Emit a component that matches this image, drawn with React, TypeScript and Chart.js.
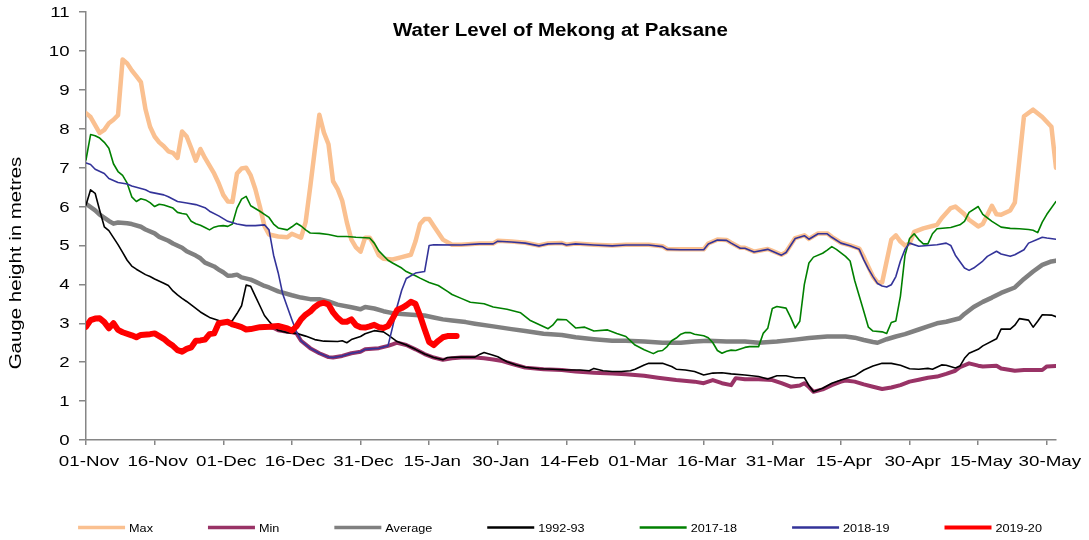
import React, { useEffect, useRef } from "react";
import { Chart, registerables } from "chart.js";

Chart.register(...registerables);

// ---- Axis categories ----
const tickDays = [0, 15, 30, 45, 60, 75, 90, 105, 120, 135, 150, 165, 180, 195, 210];
const tickLabels = ["01-Nov", "16-Nov", "01-Dec", "16-Dec", "31-Dec", "15-Jan", "30-Jan", "14-Feb", "01-Mar", "16-Mar", "31-Mar", "15-Apr", "30-Apr", "15-May", "30-May"];
const yTickValues = [0, 1, 2, 3, 4, 5, 6, 7, 8, 9, 10, 11];

// ---- Series: day offsets from 01-Nov and water level (m) ----
const maxDays = [
  0, 1, 3, 4, 5, 6, 7, 8, 9, 10,
  11, 12, 13, 14, 15, 16, 17, 18, 19, 20,
  21, 22, 23, 24, 25, 26, 27, 28, 29, 30,
  31, 32, 33, 34, 35, 36, 37, 38, 39, 40,
  42, 44, 45, 46, 47, 48, 49, 50, 51, 52,
  53, 54, 55, 56, 57, 58, 59, 60, 61, 62,
  63, 64, 65, 67, 69, 71, 72, 73, 74, 75,
  76, 78, 80, 82, 86, 89, 90, 93, 96, 99,
  101, 104, 105, 107, 111, 115, 118, 123, 126, 127,
  130, 135, 136, 138, 140, 141, 143, 144, 146, 149,
  150, 152, 153, 155, 157, 158, 160, 162, 163, 165,
  167, 169, 170, 171, 172, 173, 174, 175, 176, 177,
  178, 179, 180, 181, 183, 185, 186, 187, 189, 190,
  192, 193, 195, 196, 198, 199, 200, 202, 203, 204,
  205, 207, 209, 211, 212,
];
const maxValues = [
  8.40, 8.30, 7.89, 7.97, 8.14, 8.23, 8.35, 9.78, 9.68, 9.50,
  9.35, 9.20, 8.50, 8.05, 7.80, 7.65, 7.55, 7.42, 7.38, 7.25,
  7.93, 7.80, 7.50, 7.18, 7.48, 7.25, 7.05, 6.85, 6.60, 6.30,
  6.13, 6.12, 6.85, 6.98, 7.00, 6.80, 6.45, 6.00, 5.50, 5.28,
  5.23, 5.21, 5.30, 5.25, 5.20, 5.60, 6.50, 7.45, 8.36, 7.90,
  7.60, 6.65, 6.45, 6.15, 5.60, 5.15, 4.95, 4.84, 5.20, 5.20,
  5.00, 4.75, 4.66, 4.64, 4.70, 4.76, 5.10, 5.55, 5.68, 5.68,
  5.50, 5.15, 5.02, 5.02, 5.05, 5.05, 5.12, 5.10, 5.07, 5.00,
  5.05, 5.06, 5.02, 5.05, 5.02, 5.00, 5.02, 5.02, 4.98, 4.91,
  4.90, 4.90, 5.05, 5.15, 5.14, 5.07, 4.94, 4.94, 4.84, 4.91,
  4.86, 4.76, 4.83, 5.19, 5.26, 5.17, 5.31, 5.31, 5.22, 5.07,
  5.00, 4.92, 4.70, 4.45, 4.20, 4.05, 4.05, 4.60, 5.15, 5.26,
  5.10, 5.00, 5.05, 5.35, 5.44, 5.50, 5.53, 5.70, 5.96, 6.00,
  5.80, 5.66, 5.49, 5.55, 6.02, 5.80, 5.79, 5.90, 6.10, 7.20,
  8.32, 8.49, 8.30, 8.05, 7.00,
];

const minDays = [
  0, 1, 2, 3, 4, 5, 6, 7, 8, 10,
  11, 12, 14, 15, 16, 17, 18, 19, 20, 21,
  22, 23, 24, 25, 26, 27, 28, 29, 30, 31,
  32, 33, 34, 35, 36, 38, 40, 41, 42, 44,
  45, 46, 47, 49, 51, 53, 54, 56, 58, 60,
  61, 64, 66, 67, 68, 70, 72, 74, 76, 78,
  80, 82, 85, 87, 89, 91, 93, 96, 100, 104,
  107, 111, 115, 118, 122, 125, 129, 133, 135, 137,
  139, 141, 142, 144, 147, 150, 152, 154, 156, 157,
  158, 159, 161, 163, 165, 166, 168, 170, 172, 174,
  176, 178, 180, 182, 184, 186, 188, 190, 191, 193,
  195, 196, 199, 200, 203, 205, 209, 210, 212,
];
const minValues = [
  2.91, 3.08, 3.12, 3.13, 3.03, 2.87, 3.00, 2.83, 2.77, 2.69,
  2.64, 2.70, 2.72, 2.74, 2.67, 2.60, 2.50, 2.42, 2.31, 2.27,
  2.34, 2.38, 2.55, 2.56, 2.58, 2.72, 2.74, 3.00, 3.02, 3.00,
  2.97, 2.94, 2.90, 2.84, 2.85, 2.90, 2.90, 2.88, 2.82, 2.78,
  2.77, 2.74, 2.55, 2.36, 2.23, 2.13, 2.12, 2.16, 2.23, 2.27,
  2.33, 2.36, 2.42, 2.46, 2.50, 2.44, 2.33, 2.21, 2.12, 2.06,
  2.10, 2.12, 2.12, 2.10, 2.07, 2.03, 1.96, 1.86, 1.82, 1.80,
  1.76, 1.73, 1.71, 1.69, 1.65, 1.60, 1.54, 1.50, 1.46, 1.54,
  1.46, 1.41, 1.59, 1.56, 1.56, 1.54, 1.46, 1.37, 1.40, 1.46,
  1.36, 1.24, 1.30, 1.41, 1.50, 1.53, 1.50, 1.43, 1.37, 1.31,
  1.35, 1.41, 1.50, 1.55, 1.60, 1.63, 1.70, 1.78, 1.87, 1.97,
  1.91, 1.89, 1.91, 1.84, 1.78, 1.80, 1.80, 1.89, 1.90,
];

const avgDays = [
  0, 2, 3, 5, 6, 7, 9, 10, 12, 13,
  15, 16, 18, 19, 21, 22, 24, 25, 26, 28,
  29, 30, 31, 32, 33, 34, 36, 37, 39, 40,
  42, 45, 47, 49, 51, 53, 55, 58, 60, 61,
  63, 65, 67, 69, 72, 74, 76, 78, 80, 83,
  85, 89, 93, 96, 100, 104, 107, 111, 115, 118,
  122, 126, 130, 133, 136, 140, 144, 147, 151, 155,
  158, 162, 166, 168, 170, 172, 173, 175, 177, 179,
  182, 184, 186, 188, 191, 192, 194, 196, 198, 200,
  203, 205, 207, 209, 211, 212,
];
const avgValues = [
  6.07, 5.90, 5.79, 5.63, 5.56, 5.59, 5.57, 5.55, 5.48, 5.41,
  5.31, 5.22, 5.12, 5.05, 4.94, 4.85, 4.74, 4.67, 4.56, 4.46,
  4.38, 4.31, 4.22, 4.23, 4.25, 4.18, 4.12, 4.07, 3.96, 3.92,
  3.82, 3.72, 3.66, 3.62, 3.62, 3.56, 3.48, 3.41, 3.36, 3.42,
  3.38, 3.31, 3.26, 3.24, 3.21, 3.20, 3.15, 3.10, 3.07, 3.03,
  2.99, 2.92, 2.85, 2.80, 2.73, 2.70, 2.64, 2.59, 2.55, 2.55,
  2.53, 2.50, 2.50, 2.53, 2.55, 2.53, 2.53, 2.50, 2.53, 2.58,
  2.62, 2.66, 2.66, 2.63, 2.57, 2.52, 2.50, 2.59, 2.66, 2.72,
  2.84, 2.92, 3.00, 3.04, 3.13, 3.24, 3.42, 3.55, 3.66, 3.78,
  3.92, 4.14, 4.33, 4.50, 4.59, 4.61,
];

const y1992Days = [
  0, 1, 2, 3, 4, 5, 6, 7, 8, 9,
  10, 11, 13, 14, 15, 17, 18, 19, 20, 21,
  22, 23, 24, 25, 26, 27, 28, 30, 31, 32,
  33, 34, 35, 36, 37, 38, 39, 40, 41, 42,
  44, 46, 48, 50, 52, 55, 56, 57, 58, 60,
  61, 63, 65, 66, 68, 70, 72, 74, 76, 78,
  79, 82, 85, 86, 87, 89, 90, 92, 94, 96,
  99, 102, 105, 108, 110, 111, 113, 115, 117, 119,
  120, 122, 123, 126, 128, 129, 131, 133, 135, 137,
  139, 141, 144, 147, 149, 151, 153, 155, 157, 158,
  159, 161, 163, 165, 168, 170, 172, 174, 176, 178,
  180, 182, 184, 185, 187, 188, 190, 191, 192, 193,
  195, 196, 199, 200, 202, 203, 204, 206, 207, 208,
  209, 211, 212,
];
const y1992Values = [
  6.04, 6.43, 6.34, 5.90, 5.48, 5.38, 5.20, 5.02, 4.82, 4.62,
  4.47, 4.39, 4.25, 4.20, 4.14, 4.03, 3.97, 3.83, 3.73, 3.64,
  3.56, 3.47, 3.38, 3.29, 3.22, 3.15, 3.11, 3.03, 3.00, 3.07,
  3.25, 3.45, 3.98, 3.95, 3.70, 3.45, 3.20, 3.05, 2.92, 2.82,
  2.76, 2.74, 2.67, 2.58, 2.54, 2.53, 2.55, 2.50, 2.58, 2.66,
  2.73, 2.81, 2.78, 2.70, 2.53, 2.44, 2.33, 2.21, 2.12, 2.06,
  2.12, 2.13, 2.13, 2.20, 2.25, 2.18, 2.14, 2.01, 1.93, 1.87,
  1.83, 1.82, 1.80, 1.80, 1.78, 1.84, 1.78, 1.76, 1.76, 1.78,
  1.82, 1.93, 1.97, 1.97, 1.89, 1.82, 1.80, 1.76, 1.67, 1.72,
  1.73, 1.70, 1.67, 1.63, 1.57, 1.65, 1.65, 1.60, 1.60, 1.40,
  1.24, 1.33, 1.46, 1.54, 1.65, 1.80, 1.90, 1.97, 1.97, 1.92,
  1.83, 1.82, 1.84, 1.82, 1.93, 1.92, 1.85, 1.90, 2.10, 2.23,
  2.33, 2.42, 2.60, 2.85, 2.85, 2.95, 3.12, 3.08, 2.90, 3.05,
  3.22, 3.21, 3.17,
];

const y2017Days = [
  0, 1, 2, 3, 4, 5, 6, 7, 8, 9,
  10, 11, 12, 13, 14, 15, 16, 17, 18, 19,
  20, 21, 22, 23, 24, 25, 26, 27, 28, 29,
  30, 31, 32, 33, 34, 35, 36, 37, 38, 39,
  40, 41, 42, 44, 45, 46, 47, 48, 49, 51,
  53, 55, 57, 59, 62, 63, 64, 66, 67, 69,
  70, 72, 73, 75, 76, 77, 79, 80, 82, 84,
  87, 89, 92, 95, 97, 99, 101, 102, 103, 105,
  107, 109, 111, 114, 116, 118, 120, 122, 124, 125,
  126, 127, 128, 129, 130, 131, 132, 133, 135, 136,
  137, 138, 139, 140, 141, 142, 144, 145, 147, 148,
  149, 150, 151, 153, 154, 155, 156, 157, 158, 159,
  161, 162, 163, 164, 166, 167, 168, 169, 170, 171,
  172, 174, 175, 176, 177, 178, 179, 180, 181, 182,
  183, 184, 185, 186, 189, 191, 192, 193, 195, 196,
  198, 200, 202, 204, 206, 207, 208, 209, 210, 212,
];
const y2017Values = [
  7.20, 7.85, 7.82, 7.76, 7.65, 7.50, 7.10, 6.90, 6.80, 6.60,
  6.25, 6.13, 6.20, 6.17, 6.10, 6.00, 6.06, 6.04, 6.00, 5.96,
  5.85, 5.82, 5.80, 5.62, 5.56, 5.52, 5.46, 5.40, 5.47, 5.50,
  5.51, 5.49, 5.55, 5.96, 6.19, 6.26, 6.02, 5.95, 5.88, 5.80,
  5.72, 5.55, 5.45, 5.40, 5.48, 5.57, 5.50, 5.40, 5.32, 5.31,
  5.28, 5.23, 5.23, 5.21, 5.19, 5.06, 4.86, 4.62, 4.55, 4.42,
  4.33, 4.22, 4.16, 4.05, 4.01, 3.97, 3.82, 3.74, 3.64, 3.54,
  3.50, 3.42, 3.36, 3.27, 3.08, 2.97, 2.86, 2.95, 3.10, 3.09,
  2.88, 2.90, 2.80, 2.83, 2.74, 2.66, 2.44, 2.32, 2.22, 2.28,
  2.30, 2.40, 2.55, 2.62, 2.72, 2.76, 2.76, 2.72, 2.68, 2.63,
  2.50, 2.30, 2.23, 2.28, 2.31, 2.30, 2.38, 2.40, 2.40, 2.74,
  2.87, 3.38, 3.43, 3.39, 3.15, 2.88, 3.05, 4.00, 4.55, 4.70,
  4.80, 4.88, 4.97, 4.90, 4.72, 4.60, 4.10, 3.70, 3.30, 2.90,
  2.80, 2.78, 2.74, 3.02, 3.06, 3.70, 4.75, 5.18, 5.30, 5.15,
  5.04, 5.04, 5.30, 5.43, 5.46, 5.53, 5.62, 5.85, 6.00, 5.80,
  5.62, 5.47, 5.44, 5.43, 5.41, 5.39, 5.33, 5.60, 5.80, 6.13,
];

const y2018Days = [
  0, 1, 2, 4, 5, 7, 9, 10, 13, 14,
  17, 18, 20, 22, 24, 26, 27, 29, 31, 33,
  35, 37, 39, 40, 41, 42, 43, 44, 45, 46,
  47, 49, 51, 53, 54, 56, 58, 60, 61, 64,
  66, 67, 68, 69, 70, 72, 74, 75, 76, 82,
  86, 89, 90, 93, 96, 99, 101, 104, 105, 107,
  111, 115, 118, 123, 126, 127, 130, 135, 136, 138,
  140, 141, 143, 144, 146, 149, 150, 152, 153, 155,
  157, 158, 160, 162, 163, 165, 167, 169, 170, 171,
  172, 173, 174, 175, 176, 177, 178, 179, 180, 182,
  184, 186, 188, 189, 190, 192, 193, 194, 196, 197,
  199, 200, 202, 203, 205, 206, 208, 209, 210, 212,
];
const y2018Values = [
  7.12, 7.08, 6.96, 6.85, 6.72, 6.62, 6.58, 6.53, 6.43, 6.37,
  6.30, 6.25, 6.13, 6.09, 6.05, 5.97, 5.88, 5.76, 5.62, 5.55,
  5.51, 5.51, 5.53, 5.40, 4.75, 4.30, 3.75, 3.42, 3.09, 2.78,
  2.55, 2.36, 2.23, 2.13, 2.12, 2.16, 2.23, 2.27, 2.33, 2.36,
  2.42, 2.90, 3.43, 3.85, 4.15, 4.29, 4.33, 5.00, 5.02, 5.01,
  5.04, 5.04, 5.11, 5.09, 5.06, 4.99, 5.04, 5.05, 5.01, 5.04,
  5.01, 4.99, 5.01, 5.01, 4.97, 4.90, 4.89, 4.89, 5.04, 5.14,
  5.13, 5.06, 4.93, 4.93, 4.83, 4.90, 4.85, 4.75, 4.82, 5.18,
  5.25, 5.16, 5.30, 5.30, 5.21, 5.06, 4.99, 4.90, 4.63, 4.40,
  4.20, 4.02, 3.96, 3.93, 3.99, 4.20, 4.60, 4.90, 5.06, 4.98,
  5.00, 5.02, 5.06, 5.00, 4.75, 4.42, 4.36, 4.42, 4.60, 4.72,
  4.85, 4.78, 4.72, 4.76, 4.89, 5.06, 5.16, 5.21, 5.19, 5.16,
];

const y2019Days = [
  0, 1, 2, 3, 4, 5, 6, 7, 8, 10,
  11, 12, 14, 15, 16, 17, 18, 19, 20, 21,
  22, 23, 24, 25, 26, 27, 28, 29, 30, 31,
  32, 33, 34, 35, 36, 38, 40, 42, 44, 45,
  46, 47, 48, 49, 50, 51, 52, 53, 54, 55,
  56, 57, 58, 59, 60, 61, 62, 63, 64, 65,
  66, 67, 68, 69, 70, 71, 72, 73, 74, 75,
  76, 77, 78, 79, 81,
];
const y2019Values = [
  2.91, 3.08, 3.12, 3.13, 3.03, 2.87, 3.00, 2.83, 2.77, 2.69,
  2.64, 2.70, 2.72, 2.74, 2.67, 2.60, 2.50, 2.42, 2.31, 2.27,
  2.34, 2.38, 2.55, 2.56, 2.58, 2.72, 2.74, 3.00, 3.02, 3.04,
  2.97, 2.94, 2.90, 2.84, 2.85, 2.90, 2.91, 2.93, 2.87, 2.81,
  2.92, 3.10, 3.22, 3.30, 3.42, 3.50, 3.53, 3.48, 3.28, 3.14,
  3.04, 3.04, 3.10, 2.95, 2.90, 2.89, 2.92, 2.96, 2.90, 2.88,
  2.93, 3.12, 3.34, 3.39, 3.46, 3.55, 3.50, 3.20, 2.85, 2.52,
  2.44, 2.55, 2.64, 2.67, 2.67,
];

const CHART_TITLE = "Water Level of Mekong at Paksane";
const Y_TITLE = "Gauge height in metres";
const AXIS_COLOR = "#868686";
const FONT = '"Liberation Sans", Arial, sans-serif';

const seriesDefs = [
  { label: "Max", days: maxDays, values: maxValues, color: "#FAC090", width: 4.5, legendWidth: 3.5 },
  { label: "Min", days: minDays, values: minValues, color: "#993366", width: 4, legendWidth: 3.5 },
  { label: "Average", days: avgDays, values: avgValues, color: "#808080", width: 4.5, legendWidth: 3.5 },
  { label: "1992-93", days: y1992Days, values: y1992Values, color: "#000000", width: 1.6, legendWidth: 2.5 },
  { label: "2017-18", days: y2017Days, values: y2017Values, color: "#008000", width: 1.6, legendWidth: 2.5 },
  { label: "2018-19", days: y2018Days, values: y2018Values, color: "#333399", width: 1.6, legendWidth: 2.5 },
  { label: "2019-20", days: y2019Days, values: y2019Values, color: "#FF0000", width: 6, legendWidth: 4 },
];

function drawStretched(
  ctx: CanvasRenderingContext2D,
  text: string,
  x: number,
  y: number,
  font: string,
  sx: number,
  align: CanvasTextAlign,
  rot = 0
) {
  ctx.save();
  ctx.translate(x, y);
  if (rot) ctx.rotate(rot);
  ctx.scale(sx, 1);
  ctx.font = font;
  ctx.textAlign = align;
  ctx.textBaseline = "alphabetic";
  ctx.fillStyle = "#000";
  ctx.fillText(text, 0, 0);
  ctx.restore();
}

const textPlugin = {
  id: "customText",
  afterDraw(chart: any) {
    const ctx: CanvasRenderingContext2D = chart.ctx;
    const xs = chart.scales.x;
    const ys = chart.scales.y;
    ctx.save();
    // Title
    drawStretched(ctx, CHART_TITLE, 560.5, 36, `bold 17.5px ${FONT}`, 1.17, "center");
    // Y axis title
    drawStretched(ctx, Y_TITLE, 21, 263, `16.5px ${FONT}`, 1.24, "center", -Math.PI / 2);
    // Y tick labels
    yTickValues.forEach((v) => {
      drawStretched(ctx, String(v), 69.5, ys.getPixelForValue(v) + 5, `14px ${FONT}`, 1.33, "right");
    });
    // X tick labels
    tickDays.forEach((d, i) => {
      drawStretched(ctx, tickLabels[i], xs.getPixelForValue(d) + 3, 466, `15px ${FONT}`, 1.25, "center");
    });
    // Legend
    const lFont = `11px ${FONT}`;
    const lsx = 1.15;
    ctx.font = lFont;
    const widths = seriesDefs.map((s) => ctx.measureText(s.label).width * lsx);
    const sampleLen = 47;
    const sampleGap = 4;
    const itemGap = 55;
    const total =
      widths.reduce((a, w) => a + sampleLen + sampleGap + w, 0) + itemGap * (seriesDefs.length - 1);
    let x = 560 - total / 2;
    const ly = 527.5;
    seriesDefs.forEach((s, i) => {
      ctx.save();
      ctx.strokeStyle = s.color;
      ctx.lineWidth = s.legendWidth;
      ctx.lineCap = "butt";
      ctx.beginPath();
      ctx.moveTo(x, ly);
      ctx.lineTo(x + sampleLen, ly);
      ctx.stroke();
      ctx.restore();
      drawStretched(ctx, s.label, x + sampleLen + sampleGap, ly + 4, lFont, lsx, "left");
      x += sampleLen + sampleGap + widths[i] + itemGap;
    });
    ctx.restore();
  },
};

export default function App() {
  const canvasRef = useRef<HTMLCanvasElement | null>(null);

  useEffect(() => {
    const canvas = canvasRef.current;
    if (!canvas) return;
    const datasets = seriesDefs.map((s, i) => ({
      label: s.label,
      data: s.days.map((d, j) => ({ x: d, y: s.values[j] })),
      borderColor: s.color,
      backgroundColor: s.color,
      borderWidth: s.width,
      pointRadius: 0,
      pointHoverRadius: 0,
      fill: false,
      tension: 0,
      borderJoinStyle: "round" as const,
      borderCapStyle: "round" as const,
      order: seriesDefs.length - i,
    }));

    const chart = new Chart(canvas, {
      type: "line",
      data: { datasets },
      options: {
        animation: false,
        responsive: false,
        devicePixelRatio: 1,
        events: [],
        layout: { padding: { top: 12, right: 33, left: 0, bottom: 0 } },
        plugins: {
          legend: { display: false },
          title: { display: false },
          tooltip: { enabled: false },
        },
        scales: {
          x: {
            type: "linear",
            min: 0,
            max: 212,
            afterBuildTicks: (scale: any) => {
              scale.ticks = tickDays.map((v) => ({ value: v }));
            },
            afterFit: (scale: any) => {
              scale.height = 100;
            },
            ticks: { display: false },
            grid: {
              drawOnChartArea: false,
              drawTicks: true,
              tickLength: 5,
              color: AXIS_COLOR,
              lineWidth: 1.5,
            },
            border: { display: true, color: AXIS_COLOR, width: 1.5 },
          },
          y: {
            type: "linear",
            min: 0,
            max: 11,
            afterBuildTicks: (scale: any) => {
              scale.ticks = yTickValues.map((v) => ({ value: v }));
            },
            afterFit: (scale: any) => {
              scale.width = 86;
            },
            ticks: { display: false, stepSize: 1 },
            grid: {
              drawOnChartArea: false,
              drawTicks: true,
              tickLength: 7,
              color: AXIS_COLOR,
              lineWidth: 1.5,
            },
            border: { display: true, color: AXIS_COLOR, width: 1.5 },
          },
        },
      },
      plugins: [textPlugin],
    });
    return () => chart.destroy();
  }, []);

  return (
    <div style={{ position: "absolute", left: 0, top: 0, width: 1089, height: 540, background: "#fff" }}>
      <canvas ref={canvasRef} width={1089} height={540} style={{ display: "block", width: 1089, height: 540 }} />
    </div>
  );
}
